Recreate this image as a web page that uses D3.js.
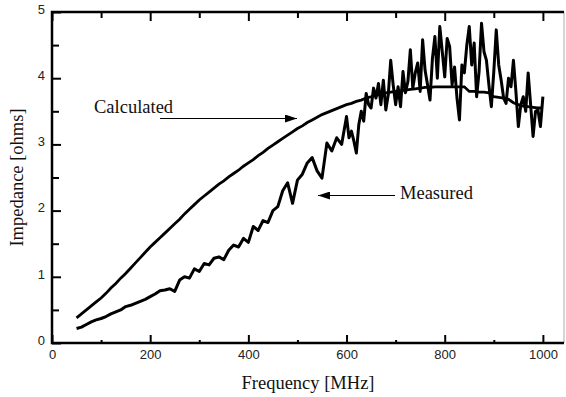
<!DOCTYPE html>
<html>
<head>
<meta charset="utf-8">
<script src="https://cdn.jsdelivr.net/npm/d3@7"></script>
<style>
  body { margin: 0; background: #fff; }
  svg { display: block; }
</style>
</head>
<body>
<figure style="margin:0"></figure>
<script>
const width = 566
const height = 397
const serifFont = "'Liberation Serif', 'DejaVu Serif', 'Times New Roman', Times, serif"
const sansFont = "'Liberation Sans', Arial, sans-serif"

// Calculated impedance [ohms], every 10 MHz from 50 to 1000
const calcFreqs = d3.range(50, 1001, 10)
const calculated = [
  0.38, 0.44, 0.50, 0.56, 0.62, 0.68, 0.75, 0.83, 0.90, 0.98,
  1.05, 1.13, 1.21, 1.29, 1.37, 1.45, 1.52, 1.59, 1.66, 1.73,
  1.80, 1.87, 1.95, 2.02, 2.09, 2.16, 2.22, 2.28, 2.34, 2.40,
  2.45, 2.51, 2.56, 2.61, 2.67, 2.72, 2.77, 2.83, 2.88, 2.94,
  2.99, 3.04, 3.09, 3.14, 3.19, 3.24, 3.28, 3.33, 3.37, 3.41,
  3.45, 3.48, 3.51, 3.54, 3.57, 3.60, 3.62, 3.65, 3.67, 3.70,
  3.72, 3.74, 3.76, 3.78, 3.79, 3.80, 3.81, 3.82, 3.83, 3.84,
  3.85, 3.86, 3.86, 3.87, 3.87, 3.87, 3.87, 3.87, 3.87, 3.87,
  3.80, 3.80, 3.79, 3.79, 3.78, 3.72, 3.71, 3.70, 3.68, 3.63,
  3.60, 3.58, 3.57, 3.56, 3.55, 3.55
]

// Measured impedance [ohms]: every 10 MHz up to 590, every 5 MHz from 600
const measFreqs = d3.range(50, 600, 10).concat(d3.range(600, 1001, 5))
const measured = [
  0.22, 0.24, 0.28, 0.32, 0.35, 0.37, 0.40, 0.44, 0.47, 0.50,
  0.55, 0.57, 0.60, 0.63, 0.66, 0.70, 0.74, 0.79, 0.80, 0.82,
  0.78, 0.95, 1.00, 0.98, 1.12, 1.08, 1.20, 1.18, 1.28, 1.30,
  1.26, 1.40, 1.48, 1.45, 1.58, 1.52, 1.76, 1.70, 1.85, 1.82,
  2.00, 2.06, 2.30, 2.42, 2.11, 2.46, 2.55, 2.72, 2.80, 2.60,
  2.49, 3.02, 2.90, 3.10, 3.00,
  3.42, 3.10, 3.20, 3.05, 2.87, 3.30, 3.50, 3.35, 3.77, 3.60,
  3.55, 3.85, 3.70, 3.92, 3.60, 3.97, 3.52, 3.75, 4.27, 3.90,
  3.60, 3.87, 3.57, 4.10, 3.78, 3.95, 4.43, 3.85, 4.08, 4.23,
  3.80, 4.58, 4.12, 3.90, 3.67, 4.30, 4.63, 4.00, 4.78, 4.40,
  4.02, 4.60, 4.48, 3.90, 4.17, 3.70, 3.37, 4.20, 4.08, 4.50,
  4.78, 4.20, 4.53, 3.72, 4.10, 4.83, 4.40, 4.27, 3.90, 3.57,
  4.10, 4.73, 4.20, 3.97, 3.70, 3.62, 4.00, 3.87, 4.27, 3.80,
  3.27, 3.60, 3.72, 3.50, 4.08, 3.60, 3.12, 3.50, 3.52, 3.27,
  3.72
]

const xMajor = [0, 200, 400, 600, 800, 1000]
const xMinor = [100, 300, 500, 700, 900]
const yMajor = [0, 1, 2, 3, 4, 5]
const yMinor = [0.5, 1.5, 2.5, 3.5, 4.5]

const plotLeft = 52
const plotRight = 564
const plotTop = 12
const plotBottom = 343

const x = d3.scaleLinear().domain([0, 1043]).range([plotLeft, plotRight])
const y = d3.scaleLinear().domain([0, 5]).range([plotBottom, plotTop])

const svg = d3.select('figure').append('svg')
  .attr('width', width)
  .attr('height', height)

// data lines
const calcLine = d3.line()
  .x((d, i) => x(calcFreqs[i]))
  .y(d => y(d))

const measLine = d3.line()
  .x((d, i) => x(measFreqs[i]))
  .y(d => y(d))

svg.append('path')
  .datum(calculated)
  .attr('d', calcLine)
  .attr('fill', 'none')
  .attr('stroke', '#000')
  .attr('stroke-width', 2.8)

svg.append('path')
  .datum(measured)
  .attr('d', measLine)
  .attr('fill', 'none')
  .attr('stroke', '#000')
  .attr('stroke-width', 3)
  .attr('stroke-linejoin', 'round')

// axes
const styleAxis = (g) => {
  g.select('.domain').remove()
  g.selectAll('.tick line').attr('stroke', '#000').attr('stroke-width', 2)
  g.selectAll('.tick text')
    .attr('font-family', sansFont)
    .attr('font-size', 13)
    .attr('fill', '#222')
}

svg.append('g')
  .attr('transform', `translate(0,${plotBottom})`)
  .call(d3.axisBottom(x).tickValues(xMajor).tickSize(-8).tickPadding(6).tickFormat(d3.format('d')))
  .call(styleAxis)
  .call(g => g.selectAll('.tick text').attr('dy', '0.95em').attr('y', 4))

svg.append('g')
  .attr('transform', `translate(0,${plotBottom})`)
  .call(d3.axisBottom(x).tickValues(xMinor).tickSize(-3).tickFormat(''))
  .call(styleAxis)

svg.append('g')
  .attr('transform', `translate(0,${plotTop})`)
  .call(d3.axisTop(x).tickValues(xMajor).tickSize(-9).tickFormat(''))
  .call(styleAxis)

svg.append('g')
  .attr('transform', `translate(0,${plotTop})`)
  .call(d3.axisTop(x).tickValues(xMinor).tickSize(-6).tickFormat(''))
  .call(styleAxis)

svg.append('g')
  .attr('transform', `translate(${plotLeft},0)`)
  .call(d3.axisLeft(y).tickValues(yMajor).tickSize(-9).tickPadding(7).tickFormat(d3.format('d')))
  .call(styleAxis)
  .call(g => g.selectAll('.tick text').attr('dy', '0.1em').attr('x', -7))

svg.append('g')
  .attr('transform', `translate(${plotLeft},0)`)
  .call(d3.axisLeft(y).tickValues(yMinor).tickSize(-7).tickFormat(''))
  .call(styleAxis)

// frame
svg.append('line')
  .attr('x1', plotRight).attr('x2', plotRight)
  .attr('y1', plotTop).attr('y2', plotBottom)
  .attr('stroke', '#aaa').attr('stroke-width', 1)

svg.append('path')
  .attr('d', `M${plotRight},${plotTop}H${plotLeft}V${plotBottom}H${plotRight}`)
  .attr('fill', 'none')
  .attr('stroke', '#000')
  .attr('stroke-width', 2.5)

const label = (sel) => sel
  .attr('font-family', serifFont)
  .attr('font-size', 18.5)
  .attr('fill', '#111')

// axis titles
svg.append('text')
  .call(label)
  .attr('x', (plotLeft + plotRight) / 2)
  .attr('y', 389)
  .attr('text-anchor', 'middle')
  .text('Frequency [MHz]')

svg.append('text')
  .call(label)
  .attr('transform', `translate(23,${(plotTop + plotBottom) / 2}) rotate(-90)`)
  .attr('text-anchor', 'middle')
  .text('Impedance [ohms]')

// annotations
svg.append('defs').append('marker')
  .attr('id', 'arrow')
  .attr('viewBox', '0 0 12 8')
  .attr('refX', 12)
  .attr('refY', 4)
  .attr('markerWidth', 12)
  .attr('markerHeight', 8)
  .attr('markerUnits', 'userSpaceOnUse')
  .attr('orient', 'auto')
  .append('path')
  .attr('d', 'M0,0L12,4L0,8Z')
  .attr('fill', '#000')

svg.append('text')
  .call(label)
  .attr('x', 94)
  .attr('y', 113)
  .text('Calculated')

svg.append('line')
  .attr('x1', 160).attr('y1', 118.5)
  .attr('x2', 297).attr('y2', 118.5)
  .attr('stroke', '#000').attr('stroke-width', 1)
  .attr('marker-end', 'url(#arrow)')

svg.append('text')
  .call(label)
  .attr('x', 400)
  .attr('y', 199)
  .text('Measured')

svg.append('line')
  .attr('x1', 395).attr('y1', 195.5)
  .attr('x2', 318).attr('y2', 195.5)
  .attr('stroke', '#000').attr('stroke-width', 1)
  .attr('marker-end', 'url(#arrow)')
</script>
</body>
</html>
